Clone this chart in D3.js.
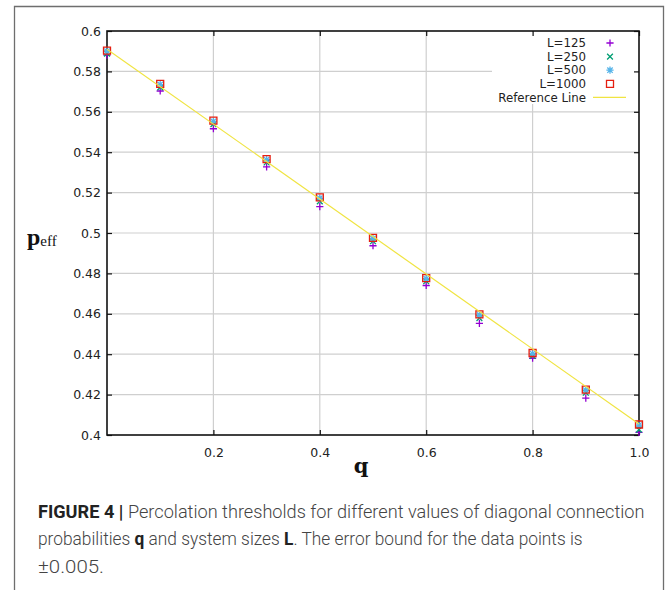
<!DOCTYPE html>
<html>
<head>
<meta charset="utf-8">
<script src="https://cdn.jsdelivr.net/npm/d3@7"></script>
<style>
  body { margin: 0; background: #fff; }
</style>
</head>
<body>
<div class="chart"></div>
<script>
// Paramètres de visualisation
const width = 672;
const height = 590;
const margin = { top: 31, right: 33, bottom: 155, left: 107 };

// Données
const qValues = [0, 0.1, 0.2, 0.3, 0.4, 0.5, 0.6, 0.7, 0.8, 0.9, 1.0];
const pL125 = [0.5881, 0.5703, 0.5516, 0.5327, 0.5131, 0.4937, 0.4740, 0.4553, 0.4380, 0.4183, 0.4013];
const pL250 = [0.5888, 0.5721, 0.5539, 0.5349, 0.5157, 0.4959, 0.4761, 0.4579, 0.4391, 0.4209, 0.4027];
const pL500 = [0.5900, 0.5735, 0.5553, 0.5363, 0.5172, 0.4973, 0.4774, 0.4594, 0.4403, 0.4222, 0.4049];
const pL1000 = [0.5903, 0.5738, 0.5556, 0.5366, 0.5176, 0.4976, 0.4777, 0.4597, 0.4406, 0.4225, 0.4052];
const refLine = [[0, 0.5910], [1, 0.4055]];

const xTicks = [0.2, 0.4, 0.6, 0.8, 1.0];
const yTicks = [0.4, 0.42, 0.44, 0.46, 0.48, 0.5, 0.52, 0.54, 0.56, 0.58, 0.6];

const series = [
    {name: "L=125", values: pL125, shape: "plus", color: "#9400d3"},
    {name: "L=250", values: pL250, shape: "cross", color: "#009e73"},
    {name: "L=500", values: pL500, shape: "star", color: "#56b4e9"},
    {name: "L=1000", values: pL1000, shape: "square", color: "#e51e10"}
];

// Forme des marqueurs (façon gnuplot)
function markerPath(shape, r) {
    const p = d3.path();
    if (shape === "plus" || shape === "star") {
        p.moveTo(-r, 0); p.lineTo(r, 0);
        p.moveTo(0, -r); p.lineTo(0, r);
    }
    if (shape === "cross" || shape === "star") {
        const s = shape === "star" ? r * 0.75 : r * 0.8;
        p.moveTo(-s, -s); p.lineTo(s, s);
        p.moveTo(-s, s); p.lineTo(s, -s);
    }
    if (shape === "square") {
        p.rect(-r + 0.5, -r + 0.5, 2 * r - 1, 2 * r - 1);
    }
    return p.toString();
}

function setup() {
    const svg = d3.select(".chart")
    .append("svg")
    .attr("width", width)
    .attr("height", height)
    .style("background", "#fff");

    // Cadre extérieur
    svg.append("path")
    .attr("d", `M14.5,${height} V6.5 H663.5 V${height}`)
    .attr("fill", "none")
    .attr("stroke", "#6e6e6e")
    .attr("stroke-width", 1.3);

    // Echelles
    const x = d3.scaleLinear()
    .domain([0, 1])
    .range([margin.left, width - margin.right]);

    const y = d3.scaleLinear()
    .domain([0.4, 0.6])
    .range([height - margin.bottom, margin.top]);

    // Grille
    const grid = svg.append("g")
    .attr("stroke", "#cfcfcf")
    .attr("stroke-width", 1.2);

    grid.selectAll(".gx")
    .data(xTicks.filter(d => d < 1))
    .join("line")
    .attr("x1", d => x(d))
    .attr("x2", d => x(d))
    .attr("y1", y(0.6))
    .attr("y2", y(0.4));

    grid.selectAll(".gy")
    .data(yTicks.filter(d => d > 0.4 && d < 0.6))
    .join("line")
    .attr("x1", x(0))
    .attr("x2", x(1))
    .attr("y1", d => y(d))
    .attr("y2", d => y(d));

    // Fond blanc de la légende (masque la grille)
    svg.append("rect")
    .attr("x", 492)
    .attr("y", y(0.6) + 1)
    .attr("width", x(1) - 493)
    .attr("height", 72)
    .attr("fill", "#fff");

    // Axes (ticks vers l'intérieur, sur les quatre côtés)
    const tickFont = "12.5px 'DejaVu Sans', sans-serif";

    svg.append("g")
    .attr("transform", `translate(0, ${y(0.4)})`)
    .call(d3.axisBottom(x).tickValues(xTicks).tickSizeInner(-5).tickSizeOuter(0)
        .tickFormat(d => d === 1 ? "1.0" : d3.format(".1f")(d)))
    .call(g => g.select(".domain").remove())
    .call(g => g.selectAll("text").attr("dy", "1.5em").style("font", tickFont).attr("fill", "#222"));

    svg.append("g")
    .attr("transform", `translate(0, ${y(0.6)})`)
    .call(d3.axisTop(x).tickValues(xTicks).tickSizeInner(-5).tickSizeOuter(0).tickFormat(""))
    .call(g => g.select(".domain").remove());

    svg.append("g")
    .attr("transform", `translate(${x(0)}, 0)`)
    .call(d3.axisLeft(y).tickValues(yTicks).tickSizeInner(-5).tickSizeOuter(0)
        .tickFormat(d => d3.format("")(+d.toFixed(2))))
    .call(g => g.select(".domain").remove())
    .call(g => g.selectAll("text").attr("x", -6).style("font", tickFont).attr("fill", "#222"));

    svg.append("g")
    .attr("transform", `translate(${x(1)}, 0)`)
    .call(d3.axisRight(y).tickValues(yTicks).tickSizeInner(-5).tickSizeOuter(0).tickFormat(""))
    .call(g => g.select(".domain").remove());

    svg.selectAll(".tick line").attr("stroke", "#111").attr("stroke-width", 1.2);

    // Cadre du graphique
    svg.append("rect")
    .attr("x", x(0))
    .attr("y", y(0.6))
    .attr("width", x(1) - x(0))
    .attr("height", y(0.4) - y(0.6))
    .attr("fill", "none")
    .attr("stroke", "#111")
    .attr("stroke-width", 1.6);

    // Points des séries
    series.forEach(s => {
        svg.append("g")
        .selectAll("path")
        .data(qValues.map((q, i) => [q, s.values[i]]))
        .join("path")
        .attr("transform", d => `translate(${x(d[0])}, ${y(d[1])})`)
        .attr("d", markerPath(s.shape, s.shape === "square" ? 4 : 3.6))
        .attr("fill", "none")
        .attr("stroke", s.color)
        .attr("stroke-width", 1.3);
    });

    // Ligne de référence
    svg.append("path")
    .datum(refLine)
    .attr("d", d3.line().x(d => x(d[0])).y(d => y(d[1])))
    .attr("fill", "none")
    .attr("stroke", "#f0e442")
    .attr("stroke-width", 1.2);

    // Légende
    const legendFont = "11.8px 'DejaVu Sans', sans-serif";
    const legendItems = series.map(s => s.name).concat(["Reference Line"]);
    const legend = svg.append("g");
    legend.selectAll("text")
    .data(legendItems)
    .join("text")
    .attr("x", 586)
    .attr("y", (d, i) => 43 + i * 13.6)
    .attr("dy", "0.35em")
    .attr("text-anchor", "end")
    .style("font", legendFont)
    .attr("fill", "#222")
    .text(d => d);

    legend.selectAll("path")
    .data(series)
    .join("path")
    .attr("transform", (d, i) => `translate(610, ${43 + i * 13.6})`)
    .attr("d", d => markerPath(d.shape, d.shape === "square" ? 4 : 3.6))
    .attr("fill", "none")
    .attr("stroke", d => d.color)
    .attr("stroke-width", 1.3);

    legend.append("line")
    .attr("x1", 593)
    .attr("x2", 626)
    .attr("y1", 43 + 4 * 13.6)
    .attr("y2", 43 + 4 * 13.6)
    .attr("stroke", "#f0e442")
    .attr("stroke-width", 1.2);

    // Titres des axes
    svg.append("text")
    .attr("x", 361)
    .attr("y", 473)
    .attr("text-anchor", "middle")
    .style("font", "bold 21px 'DejaVu Serif', 'Liberation Serif', serif")
    .attr("fill", "#111")
    .text("q");

    const yLabel = svg.append("text")
    .attr("x", 27)
    .attr("y", 245)
    .attr("fill", "#111")
    .style("font-family", "'Liberation Serif', serif");
    yLabel.append("tspan")
    .style("font-weight", "bold")
    .style("font-size", "24px")
    .text("p");
    yLabel.append("tspan")
    .style("font-size", "15px")
    .attr("dy", 1)
    .text("eff");

    // Légende de la figure
    const caption = [
        [["FIGURE 4 | ", true], ["Percolation thresholds for different values of diagonal connection", false]],
        [["probabilities ", false], ["q", true], [" and system sizes ", false], ["L", true], [". The error bound for the data points is", false]],
        [["\u00b10.005.", false]]
    ];
    const captionWidths = [607, 545, 66];

    caption.forEach((line, i) => {
        const t = svg.append("text")
        .attr("x", 38)
        .attr("y", 518 + i * 27.5)
        .attr("fill", "#333")
        .style("font-family", "Roboto, 'Liberation Sans', sans-serif")
        .style("font-size", "18px");
        line.forEach(part => {
            t.append("tspan")
            .style("font-weight", part[1] ? "bold" : "300")
            .attr("fill", part[1] ? "#222" : "#444")
            .text(part[0]);
        });
        const w = t.node().getComputedTextLength();
        const k = captionWidths[i] / w;
        t.attr("transform", `translate(${38 * (1 - k)}, 0) scale(${k}, 1)`);
    });
}

// Appel à setup
setup();
</script>
</body>
</html>
